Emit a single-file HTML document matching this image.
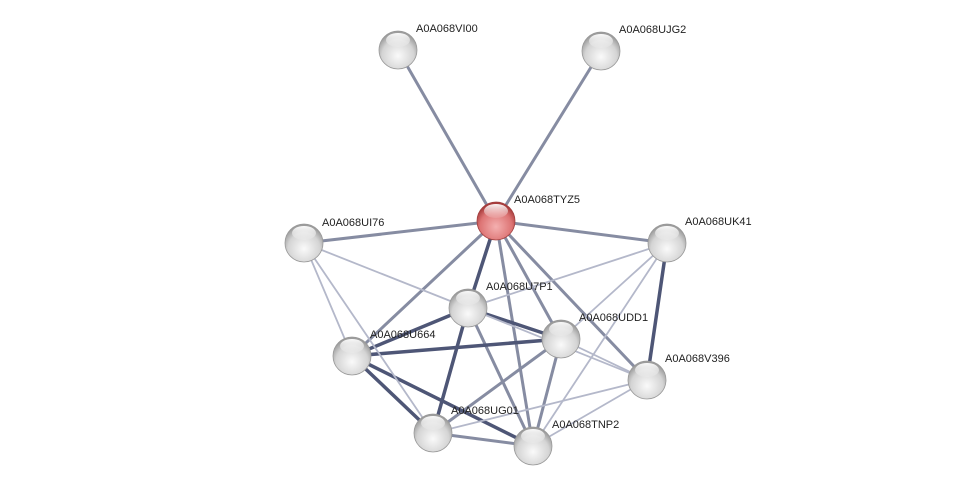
<!DOCTYPE html>
<html><head><style>body{margin:0;background:#fff}svg{display:block}</style></head><body>
<svg width="976" height="491" xmlns="http://www.w3.org/2000/svg" font-family="Liberation Sans, sans-serif" font-size="11">
<defs>
<radialGradient id="g" cx="50%" cy="65%" r="60%"><stop offset="0" stop-color="#fafafa"/><stop offset="0.7" stop-color="#d4d4d4"/><stop offset="1" stop-color="#9c9c9c"/></radialGradient>
<radialGradient id="r" cx="50%" cy="65%" r="60%"><stop offset="0" stop-color="#f4b0b0"/><stop offset="0.7" stop-color="#dd7474"/><stop offset="1" stop-color="#a83c3c"/></radialGradient>
<linearGradient id="hl" x1="0" y1="0" x2="0" y2="1"><stop offset="0" stop-color="#fff" stop-opacity="0.95"/><stop offset="1" stop-color="#fff" stop-opacity="0.1"/></linearGradient>
</defs>
<g stroke-linecap="round">
<g stroke="#7a8098" stroke-width="3" opacity="0.9">
<line x1="496" y1="221" x2="398" y2="50"/><line x1="496" y1="221" x2="601" y2="51"/>
<line x1="496" y1="221" x2="304" y2="243"/><line x1="496" y1="221" x2="667" y2="243"/>
<line x1="496" y1="221" x2="352" y2="356"/><line x1="496" y1="221" x2="533" y2="446"/>
<line x1="496" y1="221" x2="561" y2="339"/><line x1="496" y1="221" x2="647" y2="380"/>
<line x1="468" y1="308" x2="533" y2="446"/><line x1="561" y1="339" x2="433" y2="433"/>
<line x1="561" y1="339" x2="533" y2="446"/><line x1="433" y1="433" x2="533" y2="446"/>
</g>
<g stroke="#4e5676" stroke-width="3.5">
<line x1="496" y1="221" x2="468" y2="308"/><line x1="667" y1="243" x2="647" y2="380"/>
<line x1="468" y1="308" x2="352" y2="356"/><line x1="468" y1="308" x2="561" y2="339"/>
<line x1="468" y1="308" x2="433" y2="433"/><line x1="561" y1="339" x2="352" y2="356"/>
<line x1="352" y1="356" x2="433" y2="433"/><line x1="352" y1="356" x2="533" y2="446"/>
</g>
<g stroke="#b4b8ca" stroke-width="1.8">
<line x1="304" y1="243" x2="468" y2="308"/><line x1="304" y1="243" x2="352" y2="356"/>
<line x1="304" y1="243" x2="433" y2="433"/><line x1="667" y1="243" x2="468" y2="308"/>
<line x1="667" y1="243" x2="561" y2="339"/><line x1="667" y1="243" x2="533" y2="446"/>
<line x1="468" y1="308" x2="647" y2="380"/><line x1="561" y1="339" x2="647" y2="380"/>
<line x1="433" y1="433" x2="647" y2="380"/><line x1="533" y1="446" x2="647" y2="380"/>
</g>
</g>
<g>
<g transform="translate(398,50)"><circle r="19" fill="url(#g)" stroke="#999" stroke-width="0.8"/><ellipse cy="-10" rx="12" ry="7" fill="url(#hl)"/></g>
<g transform="translate(601,51)"><circle r="19" fill="url(#g)" stroke="#999" stroke-width="0.8"/><ellipse cy="-10" rx="12" ry="7" fill="url(#hl)"/></g>
<g transform="translate(496,221)"><circle r="19" fill="url(#r)" stroke="#a04040" stroke-width="0.8"/><ellipse cy="-10" rx="12" ry="7" fill="url(#hl)"/></g>
<g transform="translate(304,243)"><circle r="19" fill="url(#g)" stroke="#999" stroke-width="0.8"/><ellipse cy="-10" rx="12" ry="7" fill="url(#hl)"/></g>
<g transform="translate(667,243)"><circle r="19" fill="url(#g)" stroke="#999" stroke-width="0.8"/><ellipse cy="-10" rx="12" ry="7" fill="url(#hl)"/></g>
<g transform="translate(468,308)"><circle r="19" fill="url(#g)" stroke="#999" stroke-width="0.8"/><ellipse cy="-10" rx="12" ry="7" fill="url(#hl)"/></g>
<g transform="translate(561,339)"><circle r="19" fill="url(#g)" stroke="#999" stroke-width="0.8"/><ellipse cy="-10" rx="12" ry="7" fill="url(#hl)"/></g>
<g transform="translate(352,356)"><circle r="19" fill="url(#g)" stroke="#999" stroke-width="0.8"/><ellipse cy="-10" rx="12" ry="7" fill="url(#hl)"/></g>
<g transform="translate(647,380)"><circle r="19" fill="url(#g)" stroke="#999" stroke-width="0.8"/><ellipse cy="-10" rx="12" ry="7" fill="url(#hl)"/></g>
<g transform="translate(433,433)"><circle r="19" fill="url(#g)" stroke="#999" stroke-width="0.8"/><ellipse cy="-10" rx="12" ry="7" fill="url(#hl)"/></g>
<g transform="translate(533,446)"><circle r="19" fill="url(#g)" stroke="#999" stroke-width="0.8"/><ellipse cy="-10" rx="12" ry="7" fill="url(#hl)"/></g>
</g>
<g fill="#222">
<text x="416" y="32">A0A068VI00</text>
<text x="619" y="33">A0A068UJG2</text>
<text x="514" y="203">A0A068TYZ5</text>
<text x="322" y="226">A0A068UI76</text>
<text x="685" y="225">A0A068UK41</text>
<text x="486" y="290">A0A068U7P1</text>
<text x="579" y="321">A0A068UDD1</text>
<text x="370" y="338">A0A068U664</text>
<text x="665" y="362">A0A068V396</text>
<text x="451" y="414">A0A068UG01</text>
<text x="552" y="428">A0A068TNP2</text>
</g>
</svg>
</body></html>
